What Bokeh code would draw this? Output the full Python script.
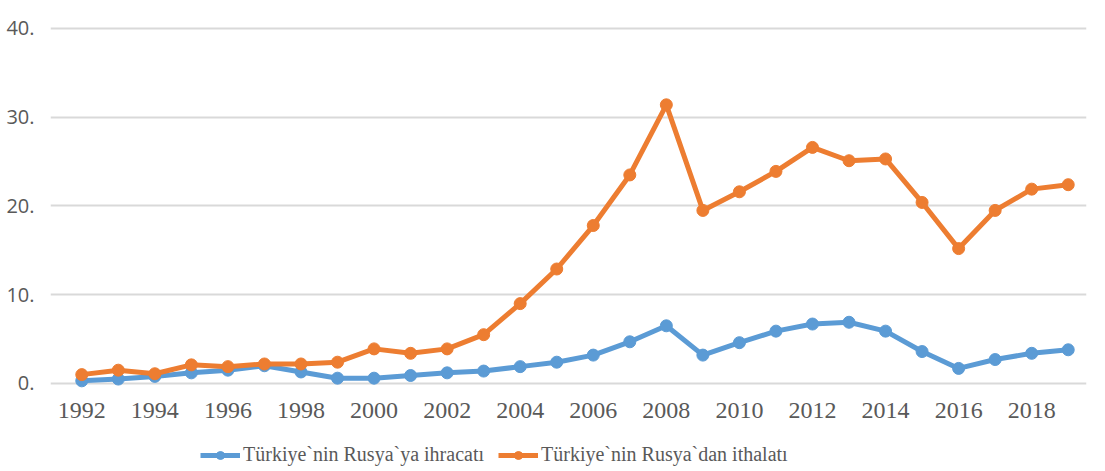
from bokeh.plotting import figure
from bokeh.models import Range1d, FixedTicker, Legend, LegendItem, ColumnDataSource
from bokeh.embed import file_html
from bokeh.resources import INLINE

years = list(range(1992, 2020))
ihracat = [0.3, 0.5, 0.8, 1.2, 1.5, 2.0, 1.3, 0.6, 0.6, 0.9, 1.2, 1.4, 1.9, 2.4,
           3.2, 4.7, 6.5, 3.2, 4.6, 5.9, 6.7, 6.9, 5.9, 3.6, 1.7, 2.7, 3.4, 3.8]
ithalat = [1.0, 1.5, 1.1, 2.1, 1.9, 2.2, 2.2, 2.4, 3.9, 3.4, 3.9, 5.5, 9.0, 12.9,
           17.8, 23.5, 31.4, 19.5, 21.6, 23.9, 26.6, 25.1, 25.3, 20.4, 15.2, 19.5, 21.9, 22.4]
y_ticks = [0, 10, 20, 30, 40]
y_tick_labels = ["0.", "10.", "20.", "30.", "40."]
x_ticks = list(range(1992, 2019, 2))
series_names = ["Türkiye`nin Rusya`ya ihracatı", "Türkiye`nin Rusya`dan ithalatı"]

BLUE = "#5B9BD5"
ORANGE = "#ED7D31"
GRID = "#D9D9D9"
TEXT = "#595959"

src = ColumnDataSource(dict(x=years, a=ihracat, b=ithalat))

p = figure(frame_width=1036, frame_height=445, output_backend="svg", toolbar_location=None,
           x_range=Range1d(1991.144, 2019.5), y_range=Range1d(-9.69, 40.45),
           min_border_left=50, min_border_right=16, min_border_top=24, min_border_bottom=0)
p.outline_line_color = None
p.background_fill_color = "white"
p.border_fill_color = "white"

p.xgrid.grid_line_color = None
p.ygrid.grid_line_color = GRID
p.ygrid.grid_line_width = 2
p.ygrid.bounds = (1991.5, 2019.5)
p.yaxis.ticker = FixedTicker(ticks=y_ticks)
p.yaxis.major_label_overrides = {t: l for t, l in zip(y_ticks, y_tick_labels)}
p.xaxis.ticker = FixedTicker(ticks=x_ticks)
p.xaxis.fixed_location = 0

for ax in (p.xaxis, p.yaxis):
    ax.axis_line_color = None
    ax.major_tick_line_color = None
    ax.minor_tick_line_color = None
    ax.major_label_text_color = TEXT
p.yaxis.major_label_text_font = "Open Sans"
p.yaxis.major_label_text_font_size = "20px"
p.yaxis.major_label_standoff = 10
p.xaxis.major_label_text_font = "Liberation Serif"
p.xaxis.major_label_text_font_size = "24px"
p.xaxis.major_label_standoff = 14

l1 = p.line("x", "a", source=src, line_color=BLUE, line_width=5)
s1 = p.scatter("x", "a", source=src, size=12, fill_color=BLUE, line_color=BLUE)
l2 = p.line("x", "b", source=src, line_color=ORANGE, line_width=5)
s2 = p.scatter("x", "b", source=src, size=12, fill_color=ORANGE, line_color=ORANGE)

legend = Legend(items=[LegendItem(label=series_names[0], renderers=[l1, s1]),
                       LegendItem(label=series_names[1], renderers=[l2, s2])],
                orientation="horizontal", location=(150, 3),
                border_line_color=None, background_fill_alpha=0,
                label_text_font="Liberation Serif", label_text_font_size="20px",
                label_text_color=TEXT, glyph_width=40, glyph_height=20, label_height=20,
                label_standoff=3, spacing=14, padding=0, margin=0)
p.add_layout(legend, "center")

open("out.html", "w").write(file_html(p, INLINE))
